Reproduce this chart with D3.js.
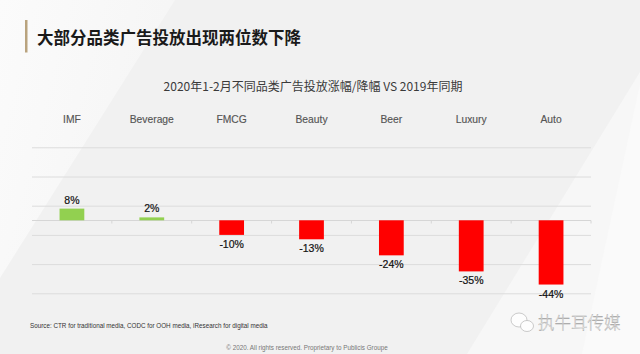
<!DOCTYPE html>
<html>
<head>
<meta charset="utf-8">
<script src="https://cdn.jsdelivr.net/npm/d3@7"></script>
<style>
  html, body { margin: 0; padding: 0; background: #f1f1f1; }
  svg { display: block; }
</style>
</head>
<body>
<svg id="chart"></svg>
<script>
// chart data
const categories = ['IMF', 'Beverage', 'FMCG', 'Beauty', 'Beer', 'Luxury', 'Auto'];
const changes = [0.08, 0.02, -0.10, -0.13, -0.24, -0.35, -0.44];
const valueLabels = ['8%', '2%', '-10%', '-13%', '-24%', '-35%', '-44%'];
const gridTicks = [-0.5, -0.3, -0.1, 0.1, 0.3, 0.5];

const titleText = '大部分品类广告投放出现两位数下降';
const subtitleText = '2020年1-2月不同品类广告投放涨幅/降幅 VS 2019年同期';
const sourceText = 'Source: CTR for traditional media, CODC for OOH media, iResearch for digital media';
const footerText = '© 2020. All rights reserved. Proprietary to Publicis Groupe';

const config = {
  width: 640,
  height: 354,
  plot: { left: 32, right: 591, top: 147.3, bottom: 293.3 },
};

const svg = d3.select('#chart')
  .attr('width', config.width)
  .attr('height', config.height);

const latin = '"Liberation Sans", Arial, sans-serif';
const cjk = '"Noto Sans CJK SC", "Liberation Sans", sans-serif';

// background with light diagonal wedges
svg.append('rect')
  .attr('width', config.width).attr('height', config.height)
  .attr('fill', '#f1f1f1');

const defs = svg.append('defs');
const grad = defs.append('linearGradient')
  .attr('id', 'tl').attr('x1', 0).attr('y1', 0).attr('x2', 1).attr('y2', 0.4);
grad.append('stop').attr('offset', 0).attr('stop-color', '#fbfbfb');
grad.append('stop').attr('offset', 1).attr('stop-color', '#f5f5f5');

svg.append('path')
  .attr('d', 'M0,0 L175,0 L0,278 Z')
  .attr('fill', 'url(#tl)');
svg.append('path')
  .attr('d', 'M640,72 L640,354 L467,354 Z')
  .attr('fill', '#f7f7f7');
svg.append('path')
  .attr('d', 'M640,84 L640,354 L582,354 Z')
  .attr('fill', '#fafafa');

// heading
svg.append('rect')
  .attr('x', 25).attr('y', 20)
  .attr('width', 2.5).attr('height', 32.5)
  .attr('fill', '#b9a37e');

svg.append('text')
  .attr('x', 37).attr('y', 43.5)
  .attr('font-family', cjk)
  .attr('font-weight', 'bold')
  .attr('font-size', 16.5)
  .attr('fill', '#1a1a1a')
  .text(titleText);

svg.append('text')
  .attr('x', 313).attr('y', 91)
  .attr('text-anchor', 'middle')
  .attr('font-family', cjk)
  .attr('font-size', 12)
  .attr('fill', '#3a3a3a')
  .text(subtitleText);

// scales
const x = d3.scaleBand()
  .domain(categories)
  .range([config.plot.left, config.plot.right])
  .paddingInner(0.69)
  .paddingOuter(0.345);

const xOuter = d3.scaleBand()
  .domain(categories)
  .range([config.plot.left, config.plot.right])
  .padding(0);

const y = d3.scaleLinear()
  .domain([-0.5, 0.5])
  .range([config.plot.bottom, config.plot.top]);

// gridlines
const yAxis = d3.axisLeft(y)
  .tickValues(gridTicks)
  .tickSize(-(config.plot.right - config.plot.left))
  .tickFormat('');

svg.append('g')
  .attr('transform', `translate(${config.plot.left},0)`)
  .call(yAxis)
  .call((g) => g.select('.domain').remove())
  .call((g) => g.selectAll('.tick line')
    .attr('stroke', '#dcdcdc')
    .attr('stroke-width', 1));

// zero line with small category ticks
const zeroY = Math.round(y(0)) + 0.5;
svg.append('line')
  .attr('x1', config.plot.left).attr('x2', config.plot.right)
  .attr('y1', zeroY).attr('y2', zeroY)
  .attr('stroke', '#d6d6d6');

svg.append('g')
  .selectAll('line')
  .data(categories)
  .join('line')
  .attr('x1', (d) => xOuter(d) + xOuter.bandwidth())
  .attr('x2', (d) => xOuter(d) + xOuter.bandwidth())
  .attr('y1', zeroY)
  .attr('y2', zeroY + 3)
  .attr('stroke', '#d6d6d6');

// category labels on top
svg.append('g')
  .selectAll('text')
  .data(categories)
  .join('text')
  .attr('x', (d) => x(d) + x.bandwidth() / 2)
  .attr('y', 123)
  .attr('text-anchor', 'middle')
  .attr('font-family', latin)
  .attr('font-size', 10.3)
  .attr('fill', '#555')
  .attr('stroke', '#555')
  .attr('stroke-width', 0.15)
  .text((d) => d);

// bars
svg.append('g')
  .selectAll('rect')
  .data(categories)
  .join('rect')
  .attr('x', (d) => x(d))
  .attr('width', x.bandwidth())
  .attr('y', (d, i) => y(Math.max(0, changes[i])))
  .attr('height', (d, i) => Math.abs(y(changes[i]) - y(0)))
  .attr('fill', (d, i) => (changes[i] >= 0 ? '#92d050' : '#ff0000'));

// value labels
svg.append('g')
  .selectAll('text')
  .data(categories)
  .join('text')
  .attr('x', (d) => x(d) + x.bandwidth() / 2)
  .attr('y', (d, i) => (changes[i] >= 0 ? y(changes[i]) - 5 : y(changes[i]) + 13))
  .attr('text-anchor', 'middle')
  .attr('font-family', latin)
  .attr('font-size', 10.5)
  .attr('fill', '#111')
  .attr('stroke', '#111')
  .attr('stroke-width', 0.2)
  .text((d, i) => valueLabels[i]);

// footer
svg.append('text')
  .attr('x', 30).attr('y', 327.5)
  .attr('font-family', latin)
  .attr('font-size', 6.3)
  .attr('fill', '#333')
  .text(sourceText);

svg.append('text')
  .attr('x', 307).attr('y', 349.5)
  .attr('text-anchor', 'middle')
  .attr('font-family', latin)
  .attr('font-size', 6.3)
  .attr('fill', '#777')
  .text(footerText);

// watermark
const wm = svg.append('g');
wm.append('ellipse')
  .attr('cx', 519).attr('cy', 320).attr('rx', 8).attr('ry', 7)
  .attr('fill', '#fdfdfd').attr('stroke', '#b5b5b5').attr('stroke-width', 0.7);
wm.append('ellipse')
  .attr('cx', 527).attr('cy', 326).attr('rx', 6.5).attr('ry', 5.5)
  .attr('fill', '#fdfdfd').attr('stroke', '#b5b5b5').attr('stroke-width', 0.7);
wm.append('text')
  .attr('x', 538).attr('y', 329)
  .attr('font-family', cjk)
  .attr('font-weight', 300)
  .attr('font-size', 16.5)
  .attr('fill', '#f8f8f8')
  .attr('stroke', '#a0a0a0')
  .attr('stroke-width', 0.35)
  .text('执牛耳传媒');
</script>
</body>
</html>
